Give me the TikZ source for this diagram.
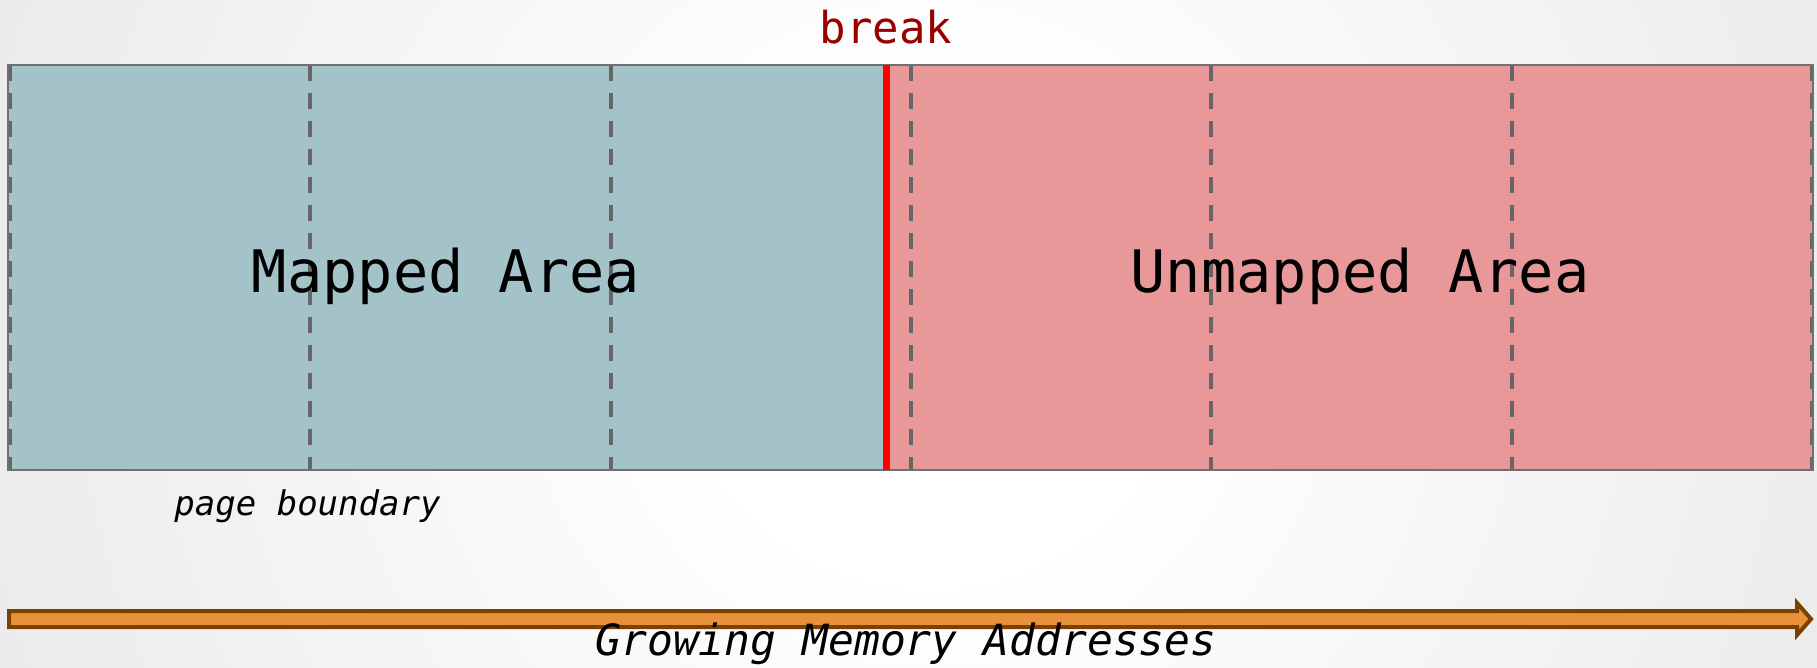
\documentclass[tikz,border=0pt]{standalone}
\usepackage{fontspec}
\setmainfont{DejaVu Sans Mono}[ItalicFont={DejaVu Sans Mono Oblique}]
\definecolor{mapped}{RGB}{163,195,200}
\definecolor{unmapped}{RGB}{232,152,152}
\definecolor{pagegray}{RGB}{102,102,102}
\definecolor{bordergray}{RGB}{112,112,112}
\definecolor{breakred}{RGB}{153,0,0}
\definecolor{arrowfill}{RGB}{232,145,58}
\definecolor{arrowdraw}{RGB}{122,65,0}
\definecolor{bggray}{RGB}{214,214,214}
\pgfdeclareradialshading{bgshade}{\pgfpoint{0bp}{0bp}}{color(0bp)=(white); color(6bp)=(white); color(44bp)=(bggray); color(50bp)=(bggray)}
\begin{document}
\begin{tikzpicture}[x=1pt,y=-1pt,
  areabox/.style={draw=none, inner sep=0pt, outer sep=0pt, minimum height=405pt, anchor=north west},
  pageline/.style={pagegray, line width=4pt, dash pattern=on 16pt off 12pt},
  breakline/.style={red, line width=7pt},
  border/.style={bordergray, line width=2pt},
  arealabel/.style={anchor=base, inner sep=0pt, font=\fontsize{58.6}{70}\selectfont},
  breaklabel/.style={anchor=base, inner sep=0pt, text=breakred, font=\fontsize{44}{52}\selectfont},
  notelabel/.style={anchor=base, inner sep=0pt, font=\itshape\fontsize{34}{40}\selectfont},
  axislabel/.style={anchor=base, inner sep=0pt, font=\itshape\fontsize{43}{50}\selectfont},
  axisarrow/.style={fill=arrowfill, draw=arrowdraw, line width=4pt, line join=miter}
]
\useasboundingbox (0,0) rectangle (1817,667);
\begin{scope}
  \clip (0,0) rectangle (1817,667);
  \fill[bggray] (0,0) rectangle (1817,667);
  \shade[shading=bgshade] (930,333) circle (1000);
\end{scope}

\node[areabox, fill=mapped, minimum width=879pt] (mapped) at (8,65) {};
\node[areabox, fill=unmapped, minimum width=926pt] (unmapped) at (887,65) {};

\foreach \i in {0,...,6} {
  \coordinate (pt\i) at ({10+\i*300.33},65);
  \coordinate (pb\i) at ({10+\i*300.33},470);
  \draw[pageline] (pt\i) -- (pb\i);
}

\draw[border] (mapped.north west) rectangle (unmapped.south east);

\coordinate (bt) at (886.5,65);
\coordinate (bb) at (886.5,470);
\draw[breakline] (bt) -- (bb);

\node[breaklabel] (brk) at (886,43) {break};
\node[arealabel] (mtext) at (446,292) {Mapped Area};
\node[arealabel] (utext) at (1360,292) {Unmapped Area};
\node[notelabel] (pbtext) at (307.5,515) {page boundary};

\coordinate (astop) at (9,611);
\coordinate (asbot) at (9,627);
\coordinate (ae) at (1811,619);
\draw[axisarrow] (astop) -- (1797,611) -- (1797,603) -- (ae) -- (1797,635) -- (1797,627) -- (asbot) -- cycle;

\node[axislabel] (gma) at (906,655) {Growing Memory Addresses};
\end{tikzpicture}
\end{document}
